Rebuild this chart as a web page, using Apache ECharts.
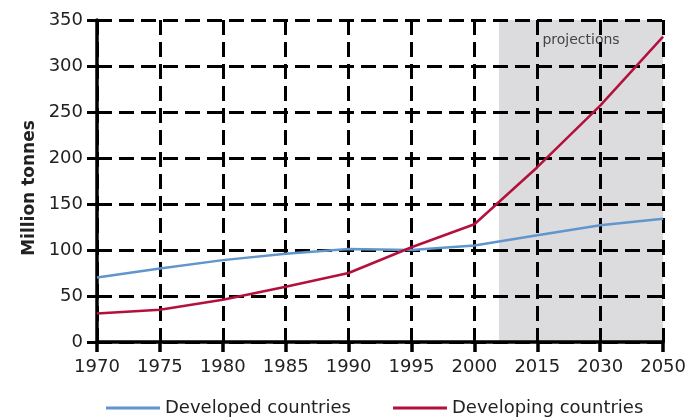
<!DOCTYPE html>
<html>
<head>
<meta charset="utf-8">
<script src="https://cdn.jsdelivr.net/npm/echarts@6/dist/echarts.min.js"></script>
<style>
  html, body { margin: 0; padding: 0; background: #fff; }
  #chart { width: 689px; height: 419px; }
</style>
</head>
<body>
<div id="chart"></div>
<script>
// data
const years = ['1970', '1975', '1980', '1985', '1990', '1995', '2000', '2015', '2030', '2050'];
const developed = [70, 80, 89, 96, 101, 100, 105, 116, 127, 134];
const developing = [31, 35, 46, 60, 75, 103, 128, 190, 257, 332];
const projectionFrom = 6.39; // position on the year axis where the shaded part starts
const projectionLabel = 'projections';

const chart = echarts.init(document.getElementById('chart'));

const toPoints = arr => arr.map((v, i) => [i, v]);
const font = 'DejaVu Sans, sans-serif';

const dashed = { color: '#000', width: 3, type: [15, 7] };

const option = {
  animation: false,
  backgroundColor: '#fff',
  grid: { left: 97, right: 23, top: 20, bottom: 77 },
  xAxis: {
    type: 'value',
    min: 0,
    max: years.length - 1,
    interval: 1,
    z: 2,
    axisLine: { show: true, onZero: false, lineStyle: { color: '#000', width: 3.5 } },
    axisTick: { show: true, length: 10, lineStyle: { color: '#000', width: 3.5 } },
    axisLabel: {
      margin: 16,
      color: '#222',
      fontFamily: font,
      fontSize: 18,
      formatter: v => years[v]
    },
    splitLine: { show: true, lineStyle: dashed }
  },
  yAxis: {
    type: 'value',
    min: 0,
    max: 350,
    interval: 50,
    z: 2,
    name: 'Million tonnes',
    nameLocation: 'middle',
    nameGap: 58,
    nameTextStyle: {
      color: '#222', fontFamily: font, fontSize: 17, fontWeight: 'bold',
      padding: [0, 14, 0, 0]
    },
    axisLine: { show: true, lineStyle: { color: '#000', width: 3.5 } },
    axisTick: { show: true, length: 10, lineStyle: { color: '#000', width: 3 } },
    axisLabel: { margin: 14, color: '#222', fontFamily: font, fontSize: 18 },
    splitLine: { show: true, lineStyle: dashed }
  },
  legend: [{
    data: ['Developed countries'],
    left: 101,
    top: 394,
    icon: 'rect',
    itemWidth: 54,
    itemHeight: 3,
    textStyle: { color: '#222', fontFamily: font, fontSize: 18 }
  }, {
    data: ['Developing countries'],
    left: 388,
    top: 394,
    icon: 'rect',
    itemWidth: 54,
    itemHeight: 3,
    textStyle: { color: '#222', fontFamily: font, fontSize: 18 }
  }],
  series: [{
    name: 'Developed countries',
    type: 'line',
    z: 5,
    symbol: 'none',
    color: '#6196cc',
    lineStyle: { width: 2.5 },
    data: toPoints(developed),
    markArea: {
      silent: true,
      z: 1,
      itemStyle: { color: '#dcdcde' },
      label: {
        show: true,
        position: 'insideTop',
        distance: 13,
        color: '#444',
        fontFamily: font,
        fontSize: 14
      },
      data: [[{ name: projectionLabel, xAxis: projectionFrom }, { xAxis: years.length - 1 }]]
    }
  }, {
    name: 'Developing countries',
    type: 'line',
    z: 5,
    symbol: 'none',
    color: '#b3103c',
    lineStyle: { width: 2.5 },
    data: toPoints(developing)
  }]
};

chart.setOption(option);
</script>
</body>
</html>
